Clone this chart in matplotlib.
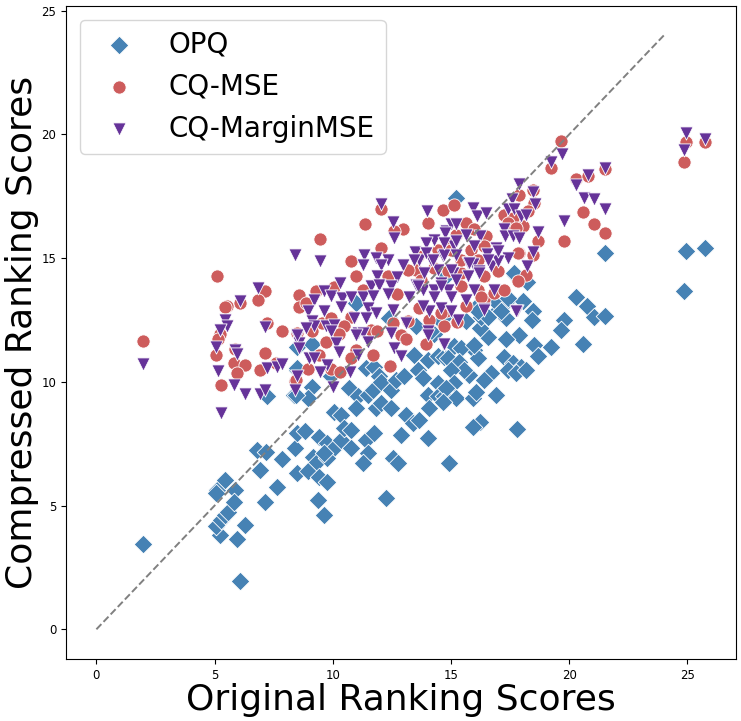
import numpy as np
import matplotlib
matplotlib.use('Agg')
import matplotlib.pyplot as plt

# (original score, compressed score) pairs
OPQ = [
    (8.47, 11.40), (8.50, 10.49), (7.23, 9.41), (8.36, 9.47),
    (1.96, 3.44), (6.07, 1.97), (5.21, 3.83), (5.04, 4.17), (5.25, 4.41),
    (5.42, 4.60), (5.56, 4.75), (5.93, 3.63), (6.29, 4.20), (5.11, 5.63),
    (5.07, 5.52), (5.44, 6.02), (5.86, 5.63), (5.82, 5.13), (7.12, 5.13),
    (7.63, 5.74), (6.92, 6.42), (6.81, 7.25), (7.16, 7.15), (7.84, 6.87),
    (8.39, 7.32), (8.50, 7.95), (8.81, 8.03), (8.50, 6.30), (8.95, 6.40),
    (9.18, 6.98), (9.35, 6.77), (9.41, 6.17), (9.39, 5.22), (9.41, 7.79),
    (10.97, 13.19), (12.39, 12.58), (13.52, 12.24), (14.58, 12.44),
    (14.29, 11.94), (14.79, 12.71), (14.72, 14.20), (14.15, 12.04),
    (9.14, 11.54), (8.50, 10.55), (9.14, 9.78), (8.93, 9.34), (8.43, 9.47),
    (9.92, 10.22), (10.69, 9.74), (11.05, 9.41), (11.47, 9.47), (11.68, 9.68),
    (11.40, 10.55), (11.75, 10.62), (11.96, 10.22), (12.03, 10.01),
    (10.97, 8.93), (11.82, 8.93), (12.03, 9.14), (10.06, 8.80), (10.34, 8.66),
    (12.46, 8.93), (12.46, 9.68), (12.67, 10.07), (13.02, 10.22),
    (13.44, 11.09), (13.59, 10.49), (13.80, 10.15), (14.01, 10.89),
    (14.44, 11.03), (14.72, 11.00), (14.44, 9.95), (14.01, 9.47),
    (14.44, 9.41), (14.72, 9.41), (14.08, 8.93), (13.09, 8.66), (13.38, 8.33),
    (13.66, 8.46), (9.77, 7.52), (10.06, 7.31), (10.34, 7.65), (10.48, 8.12),
    (10.76, 8.06), (10.76, 7.31), (11.40, 7.65), (11.75, 7.92), (11.47, 7.11),
    (9.77, 6.91), (9.63, 7.11), (11.26, 6.71), (12.53, 6.91), (12.74, 6.71),
    (12.88, 7.85), (14.01, 7.72), (14.93, 6.71), (9.77, 5.96), (9.63, 4.62),
    (12.25, 5.29),
    (17.71, 14.33), (18.22, 14.02), (20.30, 13.43), (20.76, 13.05),
    (21.07, 12.64), (17.40, 13.32), (18.04, 13.25), (16.98, 12.91),
    (17.33, 12.58), (18.46, 12.85), (18.42, 12.51), (19.80, 12.51),
    (19.66, 12.11), (17.89, 11.90), (17.33, 11.73), (16.55, 11.83),
    (16.24, 12.17), (18.53, 11.50), (19.21, 11.40), (18.70, 11.05),
    (20.58, 11.54), (17.26, 11.00), (17.61, 10.76), (17.97, 10.62),
    (17.40, 10.49), (17.75, 10.35), (18.18, 10.49), (16.69, 10.35),
    (16.41, 10.08), (15.78, 10.28), (15.99, 11.30), (16.13, 10.96),
    (15.14, 11.43), (15.42, 11.36), (14.86, 10.96), (15.35, 10.82),
    (15.56, 10.49), (15.00, 10.49), (15.14, 9.95), (14.79, 9.74),
    (15.21, 9.34), (15.92, 9.34), (16.06, 9.61), (16.91, 9.47), (16.24, 8.39),
    (15.92, 8.17), (17.80, 8.08), (14.65, 9.20), (16.27, 12.64),
    (16.13, 13.12), (15.64, 12.44), (15.99, 11.47),
    (15.21, 17.44), (17.68, 14.42),
    (24.93, 15.30), (25.76, 15.41), (24.84, 13.66), (21.53, 15.21),
    (21.53, 12.66),
    (16.84, 13.32), (17.40, 13.39), (17.12, 12.85), (16.55, 12.64),
    (16.13, 12.85),
]

CQ_MSE = [
    (5.10, 14.29), (7.13, 13.68), (6.84, 13.31), (6.07, 13.19), (5.51, 13.07),
    (5.42, 13.01), (8.55, 13.52), (8.55, 13.01), (7.23, 12.39), (7.85, 12.05),
    (1.96, 11.66), (5.21, 11.94), (5.14, 11.73), (8.47, 11.97), (5.86, 11.31),
    (5.07, 11.09), (7.13, 11.16), (5.82, 10.77), (6.29, 10.68), (5.95, 10.35),
    (6.92, 10.47), (7.60, 10.78), (5.27, 9.88), (8.39, 10.05),
    (12.03, 16.99), (11.36, 16.36), (9.46, 15.78), (12.98, 16.18),
    (12.60, 16.09), (14.67, 16.96), (14.01, 16.42), (12.03, 15.41),
    (10.76, 14.87), (11.00, 14.29), (12.32, 14.29), (12.71, 13.56),
    (9.28, 13.66), (10.06, 13.83), (11.26, 13.72), (8.86, 13.19),
    (9.56, 12.38), (9.92, 12.58), (10.76, 12.64), (10.48, 12.24),
    (9.14, 12.04), (11.61, 12.11), (12.53, 12.38), (13.16, 12.44),
    (13.66, 12.98), (14.08, 12.51), (14.72, 12.24), (14.79, 12.85),
    (13.52, 14.53), (14.44, 15.34), (14.86, 15.61), (14.86, 14.47),
    (12.88, 11.90),
    (10.27, 11.94), (9.70, 11.63), (9.42, 11.09), (8.93, 10.51), (8.43, 10.08),
    (9.92, 10.51), (10.31, 10.38), (10.97, 11.27), (10.76, 10.96),
    (11.68, 11.09), (12.43, 10.65), (13.09, 11.73), (13.94, 11.54),
    (11.89, 12.04),
    (19.66, 19.73), (19.21, 18.65), (20.30, 18.21), (20.79, 18.34),
    (18.46, 17.75), (17.89, 17.57), (18.53, 17.23), (20.58, 16.86),
    (21.07, 16.40), (19.80, 15.68), (18.67, 15.68), (15.14, 17.13),
    (15.64, 16.42), (15.99, 16.18), (15.21, 15.95), (17.26, 16.76),
    (17.61, 16.63), (17.40, 16.42), (18.04, 16.29), (17.75, 16.22),
    (18.25, 16.90), (16.48, 15.88), (17.89, 15.21), (18.46, 15.14),
    (16.98, 14.47), (18.18, 14.33), (15.85, 15.34), (16.41, 15.48),
    (15.00, 15.62), (16.13, 14.94), (15.42, 14.40), (21.50, 16.02),
    (17.82, 14.06), (16.38, 13.35), (16.84, 13.59), (15.25, 12.41),
    (15.64, 13.05),
    (24.93, 19.69), (25.76, 19.70), (24.84, 18.89), (21.53, 18.61),
    (13.59, 15.07), (15.00, 15.34), (15.42, 14.94), (16.13, 14.94),
    (16.41, 14.26), (13.16, 14.53), (13.73, 14.13), (14.29, 14.60),
    (15.42, 13.86), (16.13, 13.72), (16.27, 13.45), (14.58, 12.78),
    (17.82, 15.21), (17.26, 13.72),
]

CQ_MARGIN = [
    (8.39, 15.14), (6.84, 13.79), (6.07, 13.25), (5.44, 12.50), (5.54, 12.25),
    (5.21, 12.11), (7.13, 12.21), (8.47, 11.83), (8.55, 11.57), (5.07, 11.40),
    (5.87, 11.27), (5.95, 11.13), (1.96, 10.73), (5.14, 10.42), (7.20, 10.55),
    (7.63, 10.62), (7.85, 10.73), (8.50, 10.24), (5.82, 9.87), (6.29, 9.50),
    (6.92, 9.50), (7.12, 9.68), (8.39, 9.68), (5.27, 8.73),
    (12.03, 17.17), (12.53, 16.45), (12.60, 15.82), (13.98, 16.90),
    (14.79, 16.09), (14.29, 15.75), (13.94, 15.61), (13.47, 15.24),
    (13.66, 14.94), (14.15, 14.94), (14.65, 15.07), (9.46, 14.90),
    (11.33, 15.14), (11.26, 14.74), (11.82, 15.01), (12.32, 14.94),
    (12.03, 14.74), (12.98, 14.74), (10.31, 14.00), (11.86, 14.26),
    (11.61, 13.86), (11.96, 13.93), (12.71, 14.24), (12.47, 13.86),
    (9.63, 13.66), (9.92, 13.48), (9.21, 13.32), (10.41, 13.39),
    (10.76, 13.43), (11.26, 13.43), (11.68, 13.48), (12.32, 13.56),
    (13.52, 13.93), (13.80, 13.72), (14.29, 13.72), (14.58, 14.00),
    (14.86, 13.72), (13.23, 13.45), (9.63, 12.85), (10.34, 13.02),
    (8.93, 12.85), (9.14, 12.44), (9.21, 12.24), (9.70, 12.24), (10.06, 12.31),
    (9.92, 12.04), (10.90, 12.58), (11.47, 12.98), (11.82, 12.78),
    (11.40, 12.58), (12.53, 12.91), (13.09, 12.38), (14.08, 12.85),
    (14.58, 12.98), (14.01, 12.04), (11.05, 11.97), (11.26, 11.97),
    (8.50, 11.90), (8.86, 12.17), (14.44, 14.53), (13.87, 14.40),
    (8.57, 11.36), (10.13, 11.57), (10.27, 11.19), (9.00, 10.96),
    (9.21, 10.96), (9.77, 10.69), (9.46, 10.38), (10.73, 10.38), (9.99, 9.81),
    (10.97, 11.90), (11.47, 11.63), (11.05, 11.09), (12.60, 11.36),
    (12.88, 11.03), (12.47, 11.97), (14.01, 11.90), (14.72, 11.50),
    (19.69, 19.19), (19.21, 18.88), (20.79, 18.38), (20.30, 17.94),
    (20.62, 17.44), (21.07, 17.40), (19.80, 16.49), (17.89, 17.98),
    (18.46, 17.66), (18.56, 17.17), (17.57, 17.40), (17.40, 16.99),
    (17.68, 16.99), (17.97, 16.69), (18.18, 16.76), (18.70, 16.04),
    (15.92, 17.03), (16.10, 16.69), (16.48, 16.83), (15.00, 16.36),
    (15.21, 16.40), (14.75, 16.02), (15.64, 15.95), (16.24, 15.88),
    (17.26, 16.18), (17.29, 15.88), (17.61, 15.88), (17.89, 15.82),
    (15.14, 15.48), (15.99, 15.48), (14.69, 15.14), (15.21, 15.14),
    (16.91, 15.41), (16.53, 15.18), (17.40, 15.01), (18.46, 15.24),
    (15.71, 14.81), (15.92, 14.76), (16.69, 14.70), (18.22, 14.70),
    (16.98, 14.87), (15.07, 14.40), (16.20, 14.47),
    (17.80, 12.85), (16.84, 13.72), (16.41, 12.94), (14.72, 11.54),
    (15.28, 12.51), (15.00, 12.85),
    (24.93, 20.07), (25.76, 19.83), (24.84, 19.37), (21.53, 18.65),
    (21.50, 16.99),
    (14.72, 15.61), (15.21, 15.68), (13.94, 15.21), (13.44, 14.94),
    (14.22, 14.94), (15.00, 14.53), (15.78, 14.81), (16.55, 14.94),
    (16.98, 15.28), (14.58, 13.86), (15.21, 14.13), (15.71, 14.26),
    (16.20, 14.40), (15.99, 13.72), (13.59, 13.86), (14.29, 13.45),
    (15.00, 13.45), (15.64, 13.32), (16.41, 12.91), (17.75, 12.85),
    (13.80, 13.05),
]

LABELS = ['OPQ', 'CQ-MSE', 'CQ-MarginMSE']
DIAG_END = 24

series = [
    (np.array(OPQ), 'D', 'steelblue', 90),
    (np.array(CQ_MSE), 'o', 'indianred', 90),
    (np.array(CQ_MARGIN), 'v', 'rebeccapurple', 90),
]

fig = plt.figure(figsize=(7.41, 7.21), dpi=100)
ax = fig.add_axes([0.089, 0.086, 0.904, 0.906])

for (pts, marker, color, size), label in zip(series, LABELS):
    ax.scatter(pts[:, 0], pts[:, 1], marker=marker, color=color, s=size,
               edgecolors='white', linewidths=0.6, label=label)

ax.plot([0, DIAG_END], [0, DIAG_END], linestyle='--', color='gray', linewidth=1.4)

ax.set_xlabel('Original Ranking Scores', fontsize=26, labelpad=1)
ax.set_ylabel('Compressed Ranking Scores', fontsize=26, labelpad=2)
ax.tick_params(labelsize=8.5)
ax.legend(loc='upper left', fontsize=20)

fig.savefig('out.png', dpi=100)
